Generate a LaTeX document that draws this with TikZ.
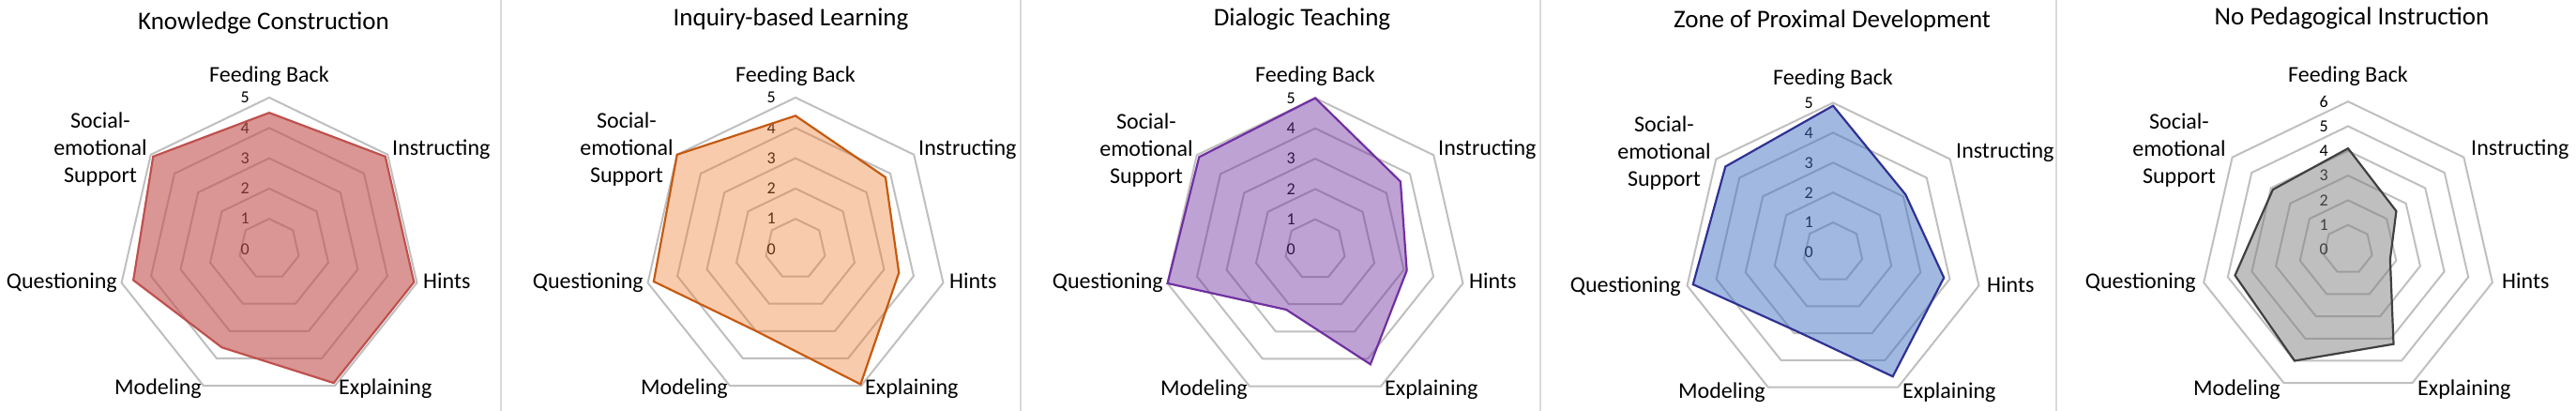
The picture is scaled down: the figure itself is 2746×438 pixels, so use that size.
\documentclass[tikz,border=0pt]{standalone}
\usepackage{fontspec}
\setmainfont{Carlito}
\usetikzlibrary{positioning}

\definecolor{kcline}{HTML}{C0504D}
\definecolor{iblfill}{HTML}{ED7D31}
\definecolor{iblline}{HTML}{C55A11}
\definecolor{dtline}{HTML}{7030A0}
\definecolor{zpdfill}{HTML}{4472C4}
\definecolor{zpdline}{HTML}{2F3192}
\definecolor{npifill}{HTML}{7F7F7F}
\definecolor{npiline}{HTML}{404040}
\definecolor{ringgray}{HTML}{BFBFBF}
\definecolor{sepgray}{HTML}{D9D9D9}

% #1 name, #2 centre, #3 px per step, #4 top step, #5 values, #6 style
\newcommand{\radar}[6]{
\begin{scope}[shift={#2}]
\foreach \lev in {1,...,#4}
  \draw[ring] (-90:\lev*#3) \foreach \idx in {1,...,6} {-- (-90+\idx*360/7:\lev*#3)} -- cycle;
\foreach \tk in {0,...,#4}
  \node[tick] (#1-t\tk) at (-21,-\tk*#3) {\tk};
\foreach \val [count=\idx from 0] in {#5}
  \coordinate (#1-p\idx) at (-90+\idx*360/7:\val*#3);
\draw[#6] (#1-p0) -- (#1-p1) -- (#1-p2) -- (#1-p3) -- (#1-p4) -- (#1-p5) -- (#1-p6) -- cycle;
\node[axis, anchor=base] (#1-fb) at (0,-178) {Feeding Back};
\node[axis, anchor=base west] (#1-ins) at (131,-100) {Instructing};
\node[axis, anchor=base west] (#1-hin) at (164,42) {Hints};
\node[axis, anchor=base west] (#1-exp) at (74,155) {Explaining};
\node[axis, anchor=base east] (#1-mod) at (-72,155) {Modeling};
\node[axis, anchor=base east] (#1-que) at (-162,42) {Questioning};
\node[axis, align=center] (#1-ses) at (-180,-106) {Social-\\emotional\\Support};
\end{scope}
}

\begin{document}
\begin{tikzpicture}[x=1pt, y=-1pt]
\tikzstyle{ring}=[draw=ringgray, line width=2pt]
\tikzstyle{divider}=[draw=sepgray, line width=2pt]
\tikzstyle{tick}=[font=\fontsize{18}{18}\selectfont, anchor=east, inner sep=0pt]
\tikzstyle{axis}=[font=\fontsize{24}{29}\selectfont, inner sep=0pt]
\tikzstyle{title}=[font=\fontsize{27}{32}\selectfont, anchor=base, inner sep=0pt]
\tikzstyle{kc}=[draw=kcline, fill=kcline, fill opacity=0.6, line width=2.2pt]
\tikzstyle{ibl}=[draw=iblline, fill=iblfill, fill opacity=0.4, line width=2.2pt]
\tikzstyle{dt}=[draw=dtline, fill=dtline, fill opacity=0.45, line width=2.2pt]
\tikzstyle{zpd}=[draw=zpdline, fill=zpdfill, fill opacity=0.5, line width=2.2pt]
\tikzstyle{npi}=[draw=npiline, fill=npifill, fill opacity=0.5, line width=2.2pt]

\useasboundingbox (0,0) rectangle (2746,438);

\path[divider] (534,0) -- (534,438);
\path[divider] (1088,0) -- (1088,438);
\path[divider] (1642,0) -- (1642,438);
\path[divider] (2192,0) -- (2192,438);

\node[title] (kc-title) at (281,31.5) {Knowledge Construction};
\node[title] (ibl-title) at (843,27.5) {Inquiry-based Learning};
\node[title] (dt-title) at (1388,27.5) {Dialogic Teaching};
\node[title] (zpd-title) at (1953,29.5) {Zone of Proximal Development};
\node[title] (npi-title) at (2507,26.5) {No Pedagogical Instruction};

\radar{kc}{(287,265.5)}{32.3}{5}{4.5,4.9,4.9,4.9,3.6,4.6,4.9}{kc}
\radar{ibl}{(848,265.5)}{32.3}{5}{4.4,3.8,3.5,4.95,3.0,4.8,5}{ibl}
\radar{dt}{(1402,266)}{32.3}{5}{5,3.6,3.1,4.2,2.2,5,4.9}{dt}
\radar{zpd}{(1954,269)}{31.9}{5}{4.9,3.1,3.8,4.6,2.9,4.8,4.6}{zpd}
\radar{npi}{(2503,266)}{26.3}{6}{4.1,2.5,1.75,4.25,5,4.7,3.9}{npi}

\end{tikzpicture}
\end{document}
